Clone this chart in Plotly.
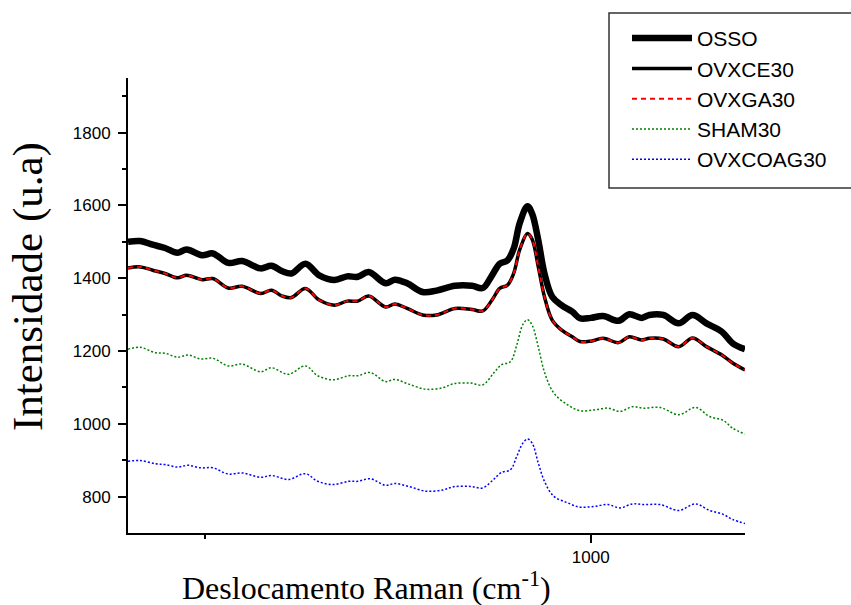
import plotly.graph_objects as go

# Raman shift grids (cm^-1)
x_a = [700, 708, 716, 724, 732, 738, 748, 755, 765, 774,
       786, 793, 800, 806, 815, 824, 834, 842, 849, 856,
       867, 873, 881, 891, 900, 912, 923, 930, 936, 941,
       946, 950, 954, 959, 962, 966, 970, 975, 981, 988,
       993, 1000, 1008, 1018, 1025, 1033, 1038, 1047, 1057, 1066,
       1075, 1085, 1092, 1100]

osso = [1500, 1502, 1492, 1483, 1470, 1479, 1463, 1468, 1442, 1447,
        1427, 1434, 1419, 1413, 1440, 1408, 1395, 1405, 1404, 1417,
        1386, 1396, 1386, 1362, 1366, 1379, 1379, 1373, 1408, 1440,
        1449, 1481, 1552, 1598, 1577, 1504, 1413, 1349, 1326, 1308,
        1290, 1291, 1296, 1283, 1301, 1291, 1299, 1299, 1276, 1299,
        1276, 1253, 1221, 1205]

ovxce30 = [1428, 1431, 1422, 1413, 1401, 1408, 1396, 1399, 1373, 1378,
           1358, 1367, 1351, 1347, 1372, 1340, 1326, 1337, 1337, 1351,
           1321, 1329, 1317, 1299, 1299, 1317, 1314, 1310, 1340, 1372,
           1381, 1413, 1479, 1523, 1507, 1431, 1349, 1285, 1258, 1239,
           1226, 1227, 1235, 1223, 1239, 1230, 1235, 1233, 1212, 1236,
           1212, 1189, 1167, 1148]

ovxga30 = [1428, 1431, 1422, 1413, 1401, 1408, 1396, 1399, 1373, 1378,
           1358, 1367, 1351, 1347, 1372, 1340, 1326, 1337, 1337, 1351,
           1321, 1329, 1317, 1299, 1299, 1317, 1314, 1310, 1340, 1372,
           1381, 1413, 1479, 1523, 1507, 1431, 1349, 1285, 1258, 1239,
           1226, 1227, 1235, 1223, 1239, 1230, 1235, 1233, 1212, 1236,
           1212, 1189, 1167, 1148]

x_b = [700, 708, 718, 724, 732, 739, 747, 755, 765, 774,
       786, 793, 804, 815, 823, 833, 843, 849, 857, 867,
       873, 882, 893, 904, 911, 922, 930, 937, 942, 948,
       952, 956, 959, 962, 966, 970, 976, 985, 993, 1002,
       1011, 1019, 1027, 1034, 1045, 1057, 1068, 1077, 1086, 1092,
       1100]

sham30 = [1205, 1210, 1195, 1194, 1183, 1189, 1178, 1180, 1159, 1164,
          1143, 1154, 1136, 1159, 1132, 1121, 1132, 1132, 1141, 1116,
          1122, 1109, 1095, 1099, 1110, 1112, 1107, 1139, 1162, 1171,
          1216, 1273, 1286, 1271, 1211, 1142, 1085, 1052, 1036, 1038,
          1043, 1034, 1047, 1043, 1045, 1025, 1045, 1020, 1009, 988,
          972]

ovxcoag30 = [897, 899, 890, 888, 881, 886, 879, 879, 862, 865,
             853, 858, 847, 863, 842, 833, 842, 842, 849, 831,
             836, 828, 815, 818, 827, 828, 824, 847, 866, 874,
             910, 947, 958, 947, 892, 842, 801, 783, 771, 773,
             778, 769, 780, 778, 778, 762, 780, 762, 751, 737,
             726]

y_ticks = [800, 1000, 1200, 1400, 1600, 1800]
y_minor = [900, 1100, 1300, 1500, 1700, 1900]
x_ticks = [1000]
x_minor = [750]

fig = go.Figure()
fig.add_trace(go.Scatter(x=x_a, y=osso, name="OSSO", mode="lines",
                         line=dict(color="black", width=6.5, shape="spline", smoothing=1)))
fig.add_trace(go.Scatter(x=x_a, y=ovxce30, name="OVXCE30", mode="lines",
                         line=dict(color="black", width=3.5, shape="spline", smoothing=1)))
fig.add_trace(go.Scatter(x=x_a, y=ovxga30, name="OVXGA30", mode="lines",
                         line=dict(color="red", width=2, dash="5px,4px", shape="spline", smoothing=1)))
fig.add_trace(go.Scatter(x=x_b, y=sham30, name="SHAM30", mode="lines",
                         line=dict(color="#008000", width=1.5, dash="2px,2px", shape="spline", smoothing=1)))
fig.add_trace(go.Scatter(x=x_b, y=ovxcoag30, name="OVXCOAG30", mode="lines",
                         line=dict(color="#0000FF", width=1.5, dash="2px,2px", shape="spline", smoothing=1)))

tick_font = dict(family="Arial, Liberation Sans, sans-serif", size=17, color="black")

fig.update_layout(
    width=851, height=605,
    margin=dict(l=128, r=106, t=78, b=72),
    paper_bgcolor="white", plot_bgcolor="white",
    showlegend=True,
    legend=dict(x=(627 - 128) / 617, y=1.132, xanchor="left", yanchor="top",
                font=dict(family="Arial, Liberation Sans, sans-serif", size=21, color="black"),
                itemwidth=60, bgcolor="rgba(0,0,0,0)", borderwidth=0, tracegroupgap=0),
    xaxis=dict(range=[700, 1100], showgrid=False, zeroline=False,
               showline=True, linecolor="black", linewidth=2,
               ticks="outside", ticklen=8, tickwidth=2, tickcolor="black",
               tickvals=x_ticks, ticktext=[str(v) for v in x_ticks],
               tickfont=tick_font, ticklabelstandoff=0,
               minor=dict(tickvals=x_minor, ticklen=4, tickwidth=2, tickcolor="black", ticks="outside")),
    yaxis=dict(range=[700, 1950], showgrid=False, zeroline=False,
               showline=True, linecolor="black", linewidth=2,
               ticks="outside", ticklen=8, tickwidth=2, tickcolor="black",
               tickvals=y_ticks, ticktext=[str(v) for v in y_ticks],
               tickfont=tick_font, ticklabelstandoff=4,
               minor=dict(tickvals=y_minor, ticklen=4,
                          tickwidth=2, tickcolor="black", ticks="outside")),
    annotations=[
        dict(text="Deslocamento Raman (cm<sup>-1</sup>)", xref="paper", yref="paper",
             x=(366 - 128) / 617, y=-0.117, xanchor="center", yanchor="middle", showarrow=False,
             font=dict(family="Times New Roman, Liberation Serif, serif", size=32, color="black")),
        dict(text="Intensidade (u.a)", xref="paper", yref="paper",
             x=(28 - 128) / 617, y=(533 - 287) / 455, xanchor="center", yanchor="middle",
             showarrow=False, textangle=-90,
             font=dict(family="Times New Roman, Liberation Serif, serif", size=43, color="black")),
    ],
    shapes=[dict(type="rect", xref="paper", yref="paper",
                 x0=(609 - 128) / 617, x1=(870 - 128) / 617,
                 y0=(533 - 188) / 455, y1=(533 - 13) / 455,
                 line=dict(color="#333333", width=1.5), fillcolor="rgba(0,0,0,0)")],
)

fig.write_html("out.html")
